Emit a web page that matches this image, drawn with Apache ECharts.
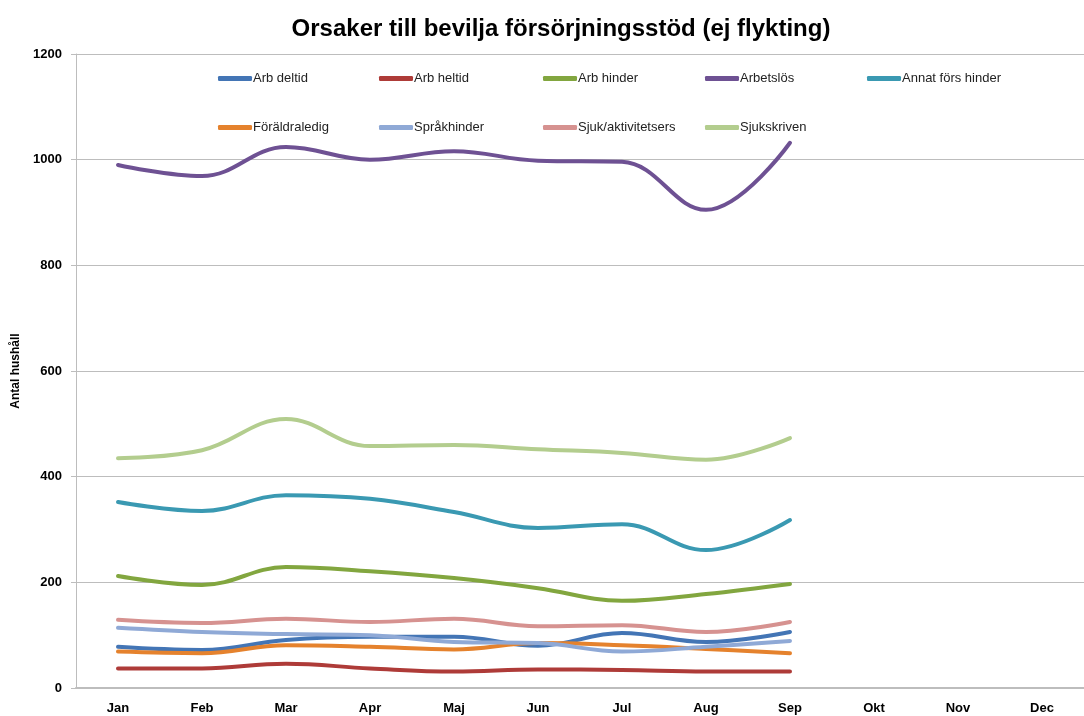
<!DOCTYPE html>
<html>
<head>
<meta charset="utf-8">
<script src="https://cdn.jsdelivr.net/npm/echarts@6/dist/echarts.min.js"></script>
<style>
  html, body { margin: 0; padding: 0; background: #fff; }
  #main { width: 1084px; height: 716px; }
</style>
</head>
<body>
<div id="main"></div>
<script>
var months = ['Jan', 'Feb', 'Mar', 'Apr', 'Maj', 'Jun', 'Jul', 'Aug', 'Sep', 'Okt', 'Nov', 'Dec'];
var yTicks = [0, 200, 400, 600, 800, 1000, 1200];

// Jan..Sep, resten saknas
var arbDeltid = [78, 72, 91, 97, 97, 80, 104, 87, 106];
var arbHeltid = [37, 37, 46, 37, 31, 35, 34, 31, 31];
var arbHinder = [212, 195, 229, 221, 208, 189, 165, 178, 197];
var arbetslos = [990, 969, 1024, 1000, 1016, 998, 996, 905, 1032];
var annatFors = [352, 335, 365, 358, 333, 303, 310, 261, 318];
var foraldraledig = [69, 66, 81, 78, 73, 85, 81, 74, 66];
var sprakhinder = [114, 106, 102, 100, 87, 85, 69, 78, 89];
var sjukAktivitet = [129, 123, 131, 125, 131, 117, 119, 106, 125];
var sjukskriven = [435, 450, 509, 458, 460, 452, 445, 432, 473];

var FONT = '"Liberation Sans Narrow", "Liberation Sans", "Noto Sans", sans-serif';

var seriesDefs = [
    { name: 'Arb deltid', data: arbDeltid, color: '#4375B5' },
    { name: 'Arb heltid', data: arbHeltid, color: '#AE3B38' },
    { name: 'Arb hinder', data: arbHinder, color: '#82A63F' },
    { name: 'Arbetslös', data: arbetslos, color: '#6E5193' },
    { name: 'Annat förs hinder', data: annatFors, color: '#3A99B2' },
    { name: 'Föräldraledig', data: foraldraledig, color: '#E5822D' },
    { name: 'Språkhinder', data: sprakhinder, color: '#8FA9D6' },
    { name: 'Sjuk/aktivitetsers', data: sjukAktivitet, color: '#D69290' },
    { name: 'Sjukskriven', data: sjukskriven, color: '#B3CD8E' }
];

var series = seriesDefs.map(function (s) {
    return {
        name: s.name,
        type: 'line',
        data: s.data,
        smooth: 0.4,
        symbol: 'none',
        color: s.color,
        lineStyle: { width: 4, color: s.color, cap: 'round', join: 'round' }
    };
});

// en legend per post, 5 kolumner x 2 rader
var legendCols = [213, 374, 538, 700, 862];
var legendRows = [67, 116];
var legends = seriesDefs.map(function (s, i) {
    return {
        data: [s.name],
        left: legendCols[i % 5],
        top: legendRows[Math.floor(i / 5)],
        itemWidth: 34,
        itemHeight: 5,
        icon: 'roundRect',
        textStyle: {
            fontFamily: FONT,
            fontSize: 13,
            color: '#222',
            padding: [0, 0, 0, -4]
        }
    };
});

var myChart = echarts.init(document.getElementById('main'));

var option = {
    backgroundColor: '#fff',
    animation: false,
    title: {
        text: 'Orsaker till bevilja försörjningsstöd (ej flykting)',
        left: 556,
        textAlign: 'center',
        top: 12,
        textStyle: { fontFamily: FONT, fontSize: 24, fontWeight: 'bold', color: '#000' }
    },
    legend: legends,
    grid: {
        left: 76,
        top: 54,
        width: 1016,
        height: 634,
        containLabel: false
    },
    xAxis: {
        type: 'category',
        data: months,
        boundaryGap: true,
        axisLine: { lineStyle: { color: '#BDBDBD', width: 2 } },
        axisTick: { show: false },
        axisLabel: {
            fontFamily: FONT, fontSize: 13, fontWeight: 'bold', color: '#000', margin: 14
        }
    },
    yAxis: {
        type: 'value',
        min: yTicks[0],
        max: yTicks[yTicks.length - 1],
        interval: 200,
        name: 'Antal hushåll',
        nameLocation: 'middle',
        nameGap: 45,
        nameRotate: 90,
        nameTextStyle: { fontFamily: FONT, fontSize: 12, fontWeight: 'bold', color: '#000' },
        axisLine: { show: true, lineStyle: { color: '#BDBDBD', width: 1 } },
        axisTick: { show: true, length: 5, lineStyle: { color: '#BDBDBD' } },
        splitLine: { lineStyle: { color: '#BDBDBD', width: 1 } },
        axisLabel: {
            fontFamily: FONT, fontSize: 13, fontWeight: 'bold', color: '#000', margin: 14,
            formatter: function (v) { return String(v); }
        }
    },
    series: series
};

myChart.setOption(option);
</script>
</body>
</html>
